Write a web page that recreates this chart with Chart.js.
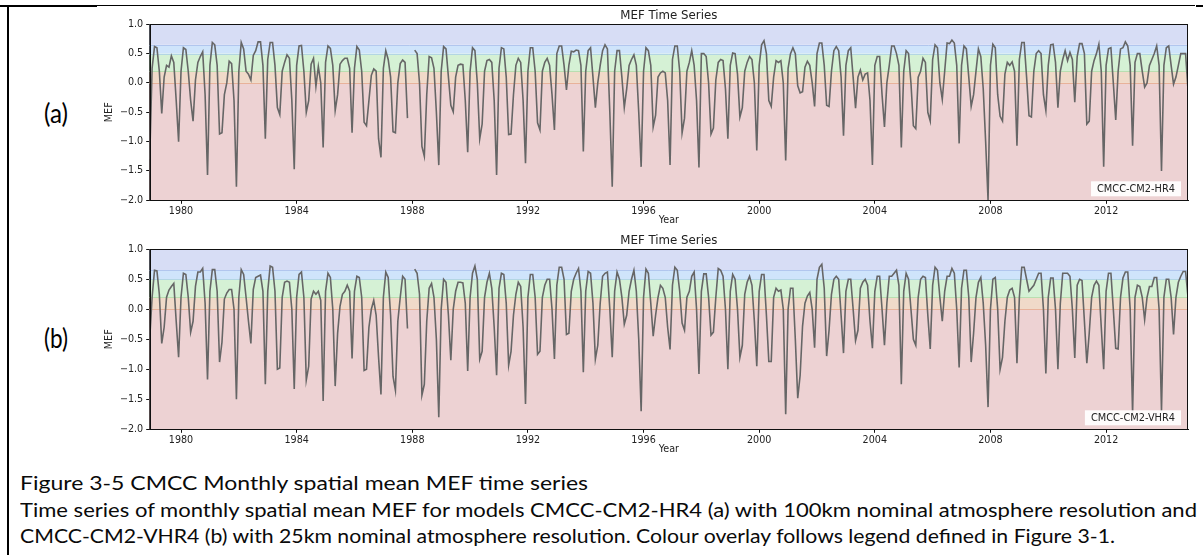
<!DOCTYPE html>
<html>
<head>
<meta charset="utf-8">
<script src="https://cdn.jsdelivr.net/npm/chart.js@4.4.1/dist/chart.umd.min.js"></script>
<style>
  html, body { margin: 0; padding: 0; background: #fff; }
  #page { position: relative; width: 1203px; height: 555px; overflow: hidden; background: #fff; }
  canvas { position: absolute; left: 0; }
  .rule { position: absolute; background: #000; }
  .cap { position: absolute; left: 20px; white-space: nowrap; font-family: Lato, sans-serif;
         font-size: 18.5px; line-height: 18.5px; color: #0a0a0a; transform-origin: 0 0; }
  .tag { position: absolute; white-space: nowrap; font-family: Lato, sans-serif;
         font-size: 27px; line-height: 27px; color: #000; transform-origin: 0 0; }
</style>
</head>
<body>
<div id="page">
  <div class="rule" style="left:0;top:5px;width:97px;height:2px"></div>
  <div class="rule" style="left:97px;top:5px;width:1098px;height:1px"></div>
  <div class="rule" style="left:1196px;top:5px;width:7px;height:2px"></div>
  <div class="rule" style="left:7px;top:5px;width:1.5px;height:550px"></div>

  <div class="tag" style="left:44px;top:99px" data-w="24">(a)</div>
  <div class="tag" style="left:44px;top:324px" data-w="24">(b)</div>

  <canvas id="hr4Chart" width="1203" height="230" style="top:0"></canvas>
  <canvas id="vhr4Chart" width="1203" height="234" style="top:225px"></canvas>

  <div class="cap" style="top:473.6px" data-w="568">Figure 3-5 CMCC Monthly spatial mean MEF time series</div>
  <div class="cap" style="top:500.9px" data-w="1177">Time series of monthly spatial mean MEF for models CMCC-CM2-HR4 (a) with 100km nominal atmosphere resolution and</div>
  <div class="cap" style="top:526.9px" data-w="1095">CMCC-CM2-VHR4 (b) with 25km nominal atmosphere resolution. Colour overlay follows legend defined in Figure 3-1.</div>
</div>

<script>
// monthly series, Dec 1978 .. Nov 2014 (one row = Dec..Nov)
const startYear = 1978 + 11 / 12;
const tickYears = [1980, 1984, 1988, 1992, 1996, 2000, 2004, 2008, 2012];
const yTicks = [-2, -1.5, -1, -0.5, 0, 0.5, 1];

const hr4 = [
  -1.3, 0.25, 0.62, 0.6, 0.2, -0.52, 0.1, 0.3, 0.27, 0.46, 0.35, -0.3,
  -1.0, 0.2, 0.6, 0.57, 0.2, -0.3, -0.65, 0.05, 0.35, 0.45, 0.53, -0.2,
  -1.57, 0.3, 0.69, 0.65, 0.3, -0.87, -0.85, -0.2, 0.0, 0.37, 0.33, -0.3,
  -1.77, 0.2, 0.69, 0.58, 0.2, 0.15, 0.05, 0.47, 0.55, 0.7, 0.7, 0.3,
  -0.95, 0.4, 0.69, 0.69, 0.3, -0.42, -0.54, 0.2, 0.35, 0.48, 0.42, -0.3,
  -1.47, 0.3, 0.63, 0.64, 0.2, -0.5, -0.3, 0.32, 0.42, -0.06, 0.28, 0.0,
  -1.1, 0.35, 0.63, 0.59, 0.3, -0.47, -0.2, 0.32, 0.38, 0.42, 0.42, 0.25,
  -0.85, 0.25, 0.62, 0.56, 0.2, -0.67, -0.73, -0.3, 0.13, 0.24, 0.2, -0.95,
  -1.27, 0.25, 0.55, 0.4, 0.1, -0.83, -0.85, 0.0, 0.33, 0.39, 0.35, -0.6,
  null, null, 0.56, 0.5, 0.0, -1.08, -1.25, -0.2, 0.45, 0.43, 0.25, -0.5,
  -1.4, 0.2, 0.62, 0.58, 0.1, -0.38, -0.49, 0.1, 0.3, 0.32, 0.31, -0.3,
  -1.18, 0.2, 0.6, 0.55, 0.0, -0.95, -0.7, 0.2, 0.38, 0.4, 0.35, -0.3,
  -1.57, 0.25, 0.6, 0.58, 0.1, -0.88, -0.87, -0.2, 0.3, 0.42, 0.35, -0.3,
  -1.37, 0.2, 0.6, 0.6, 0.2, -0.68, -0.8, 0.2, 0.35, 0.42, 0.3, -0.2,
  -0.8, 0.5, 0.63, 0.63, 0.3, -0.12, 0.3, 0.54, 0.53, 0.56, 0.55, 0.3,
  -1.17, 0.2, 0.55, 0.6, 0.1, -0.42, 0.0, 0.3, 0.55, 0.65, 0.58, -0.5,
  -1.77, 0.2, 0.55, 0.55, 0.1, -0.42, -0.1, 0.3, 0.4, 0.48, 0.3, -0.5,
  -1.43, 0.2, 0.6, 0.55, 0.3, -0.75, -0.55, 0.1, 0.17, 0.2, 0.17, -0.3,
  -1.4, 0.4, 0.63, 0.63, 0.2, -0.85, -0.6, 0.2, 0.35, 0.55, 0.3, -0.3,
  -1.44, 0.5, 0.5, 0.45, 0.0, -0.87, -0.77, 0.05, 0.35, 0.4, 0.38, -0.1,
  -0.95, 0.3, 0.51, 0.5, 0.15, -0.58, -0.42, 0.2, 0.35, 0.45, 0.4, 0.0,
  -1.15, 0.3, 0.65, 0.72, 0.5, -0.3, -0.4, 0.1, 0.38, 0.35, 0.38, 0.0,
  -1.32, 0.25, 0.5, 0.6, 0.5, -0.05, -0.17, -0.15, 0.27, 0.37, 0.3, 0.0,
  -0.4, 0.5, 0.68, 0.68, 0.3, -0.38, -0.4, 0.2, 0.55, 0.62, 0.55, 0.1,
  -0.9, 0.3, 0.55, 0.6, 0.1, -0.43, 0.1, 0.22, 0.05, 0.15, 0.17, -0.3,
  -1.4, 0.3, 0.45, 0.45, -0.2, -0.75, 0.0, 0.3, 0.63, 0.63, 0.5, 0.3,
  -1.1, 0.2, 0.55, 0.5, 0.0, -0.73, -0.78, 0.1, 0.2, 0.42, 0.35, -0.5,
  -0.65, 0.4, 0.65, 0.6, 0.0, -0.28, 0.2, 0.68, 0.67, 0.73, 0.68, 0.3,
  -1.03, 0.3, 0.63, 0.58, 0.1, -0.4, -0.2, 0.2, 0.58, 0.45, -0.1, -1.0,
  -2.0, 0.3, 0.66, 0.6, -0.2, -0.57, -0.65, 0.15, 0.35, 0.3, 0.36, 0.2,
  -1.07, 0.4, 0.69, 0.69, 0.1, -0.56, -0.58, 0.2, 0.5, 0.55, 0.5, -0.2,
  -0.47, 0.3, 0.65, 0.66, 0.35, -0.42, 0.2, 0.4, 0.55, 0.38, 0.52, 0.4,
  -0.33, 0.45, 0.67, 0.67, 0.5, -0.7, -0.65, 0.2, 0.38, 0.5, 0.66, 0.2,
  -1.43, 0.3, 0.58, 0.6, 0.0, -0.63, 0.2, 0.58, 0.6, 0.7, 0.63, 0.3,
  -1.07, 0.35, 0.5, 0.5, 0.2, -0.07, 0.0, 0.3, 0.4, 0.5, 0.63, 0.3,
  -1.5, 0.3, 0.6, 0.63, 0.3, -0.02, 0.1, 0.3, 0.5, 0.5, 0.5, -0.12
];

const vhr4 = [
  -0.5, 0.2, 0.65, 0.64, 0.25, -0.57, -0.3, 0.2, 0.32, 0.38, 0.43, -0.2,
  -0.8, 0.2, 0.6, 0.58, 0.2, -0.38, -0.2, 0.38, 0.62, 0.62, 0.68, 0.1,
  -1.17, 0.3, 0.66, 0.66, 0.3, -0.88, -0.55, 0.17, 0.27, 0.33, 0.33, 0.0,
  -1.5, 0.2, 0.66, 0.58, 0.2, -0.2, -0.57, 0.33, 0.53, 0.55, 0.57, 0.3,
  -1.25, 0.3, 0.72, 0.7, 0.3, -1.0, -0.98, 0.2, 0.45, 0.47, 0.45, 0.0,
  -1.33, 0.2, 0.58, 0.62, 0.2, -1.18, -0.95, 0.17, 0.3, 0.25, 0.3, 0.15,
  -1.53, 0.3, 0.6, 0.53, 0.0, -1.28, -0.4, 0.05, 0.25, 0.3, 0.4, 0.3,
  -0.82, 0.3, 0.55, 0.53, 0.2, -1.02, -1.0, -0.3, 0.0, 0.15, -0.1, -0.8,
  -1.42, 0.2, 0.62, 0.53, -0.1, -1.12, -1.35, -0.2, 0.2, 0.55, 0.5, -0.32,
  null, null, 0.67, 0.6, 0.25, -1.43, -1.25, -0.2, 0.35, 0.43, 0.2, -0.5,
  -1.8, 0.0, 0.5, 0.45, -0.1, -0.85, 0.0, 0.3, 0.45, 0.45, 0.44, 0.1,
  -1.03, 0.2, 0.6, 0.72, 0.5, -0.83, -0.7, 0.2, 0.45, 0.6, 0.35, -0.3,
  -1.1, 0.35, 0.6, 0.58, 0.1, -0.93, -0.7, -0.1, 0.25, 0.45, 0.38, -0.3,
  -1.58, 0.2, 0.58, 0.58, 0.2, -0.75, -0.7, 0.2, 0.4, 0.5, 0.5, 0.0,
  -0.83, 0.4, 0.7, 0.7, 0.5, -0.42, -0.4, 0.3, 0.5, 0.6, 0.68, 0.3,
  -1.05, 0.3, 0.63, 0.6, 0.1, -0.83, -0.6, 0.1, 0.55, 0.6, 0.62, 0.0,
  -0.8, 0.3, 0.62, 0.5, 0.2, -0.25, -0.1, 0.3, 0.5, 0.65, 0.3, -0.5,
  -1.7, 0.2, 0.67, 0.6, 0.1, -0.45, -0.1, 0.2, 0.4, 0.35, 0.2, -0.3,
  -0.67, 0.4, 0.7, 0.65, 0.3, -0.23, -0.35, 0.2, 0.3, 0.55, 0.62, 0.0,
  -1.08, 0.3, 0.59, 0.59, 0.2, -0.43, -0.38, 0.2, 0.68, 0.65, 0.55, 0.0,
  -1.0, 0.3, 0.58, 0.5, 0.0, -0.8, -0.6, 0.25, 0.45, 0.55, 0.4, -0.2,
  -0.95, 0.3, 0.58, 0.58, -0.1, -0.87, -0.87, 0.2, 0.35, 0.3, 0.32, 0.0,
  -1.75, 0.0, 0.35, 0.35, -0.5, -1.48, -1.1, -0.28, 0.1, 0.22, 0.28, 0.0,
  -0.64, 0.5, 0.7, 0.75, 0.35, -0.78, -0.35, 0.25, 0.5, 0.55, 0.5, -0.1,
  -0.73, 0.3, 0.5, 0.5, 0.0, -0.52, -0.35, 0.35, 0.45, 0.5, 0.4, -0.2,
  -0.65, 0.3, 0.55, 0.55, 0.0, -0.6, 0.1, 0.55, 0.55, 0.6, 0.65, 0.4,
  -1.25, 0.3, 0.6, 0.5, 0.0, -0.5, -0.6, 0.2, 0.5, 0.55, 0.53, -0.1,
  -0.66, 0.4, 0.7, 0.65, 0.2, -0.2, 0.3, 0.55, 0.55, 0.68, 0.6, 0.0,
  -0.97, 0.35, 0.65, 0.65, 0.2, -0.88, -0.4, 0.2, 0.45, 0.53, 0.1, -0.6,
  -1.63, 0.0, 0.5, 0.53, 0.0, -1.0, -0.8, -0.2, 0.2, 0.32, 0.35, 0.2,
  -0.9, 0.2, 0.7, 0.7, 0.5, 0.3, 0.35, 0.4, 0.5, 0.6, 0.6, 0.0,
  -1.07, 0.2, 0.52, 0.52, 0.0, -1.0, 0.1, 0.6, 0.6, 0.6, 0.55, 0.0,
  -0.81, 0.4, 0.5, 0.48, -0.2, -0.9, -0.4, 0.2, 0.4, 0.47, 0.4, -0.3,
  -1.0, 0.3, 0.6, 0.6, 0.0, -0.65, -0.66, 0.2, 0.52, 0.62, 0.62, 0.0,
  -1.75, 0.2, 0.4, 0.38, 0.2, -0.17, 0.2, 0.38, 0.38, 0.53, 0.53, 0.0,
  -1.7, 0.2, 0.5, 0.5, 0.2, -0.42, 0.2, 0.45, 0.55, 0.63, 0.63, 0.2
];

// colour overlay (MEF classes)
const bandEdges = [-2, 0, 0.2, 0.5, 0.65, 1];
const bandFills = ['#edd2d3', '#f0dac9', '#d5f1d5', '#cfe4fb', '#d7ddf5'];
const bandLines = ['#e8b29a', '#b9deb0', '#b3d6e3', '#b1c6ee'];

Chart.defaults.font.family = "'DejaVu Sans', sans-serif";
Chart.defaults.font.size = 9.6;
Chart.defaults.color = '#222';

const panelDecor = {
  id: 'panelDecor',
  beforeDatasetsDraw(chart) {
    const {ctx, chartArea: a, scales: {y}} = chart;
    ctx.save();
    for (let i = 0; i < bandFills.length; i++) {
      const top = y.getPixelForValue(bandEdges[i + 1]);
      const bot = y.getPixelForValue(bandEdges[i]);
      ctx.fillStyle = bandFills[i];
      ctx.fillRect(a.left, top, a.right - a.left, bot - top);
    }
    ctx.lineWidth = 1;
    for (let i = 0; i < bandLines.length; i++) {
      const py = Math.round(y.getPixelForValue(bandEdges[i + 1])) + 0.5;
      ctx.strokeStyle = bandLines[i];
      ctx.beginPath();
      ctx.moveTo(a.left, py);
      ctx.lineTo(a.right, py);
      ctx.stroke();
    }
    ctx.restore();
  },
  afterDatasetsDraw(chart) {
    const {ctx, chartArea: a} = chart;
    const label = chart.data.datasets[0].label;
    ctx.save();
    ctx.font = "9.8px 'DejaVu Sans'";
    const tw = ctx.measureText(label).width;
    const bw = tw + 12, bh = 15;
    const bx = a.right - 7 - bw, by = a.bottom - 4 - bh;
    ctx.fillStyle = 'rgba(255,255,255,0.92)';
    ctx.fillRect(bx, by, bw, bh);
    ctx.fillStyle = '#222';
    ctx.textBaseline = 'middle';
    ctx.fillText(label, bx + 6, by + bh / 2 + 0.5);
    ctx.strokeStyle = '#111';
    ctx.lineWidth = 1;
    ctx.strokeRect(Math.round(a.left) + 0.5, Math.round(a.top) + 0.5,
                   Math.round(a.right - a.left) - 1, Math.round(a.bottom - a.top));
    ctx.restore();
  }
};

function MefPanel(canvasId, label, values, plotBottomPad) {
  const ctx = document.getElementById(canvasId);
  const points = values.map((v, i) => ({x: startYear + i / 12, y: v}));
  new Chart(ctx, {
    type: 'line',
    data: {
      datasets: [{
        label: label,
        data: points,
        borderColor: '#666666',
        borderWidth: 1.6,
        pointRadius: 0,
        tension: 0,
        spanGaps: false
      }]
    },
    options: {
      responsive: false,
      animation: false,
      devicePixelRatio: 1,
      layout: {padding: {left: 100, right: 15, top: 8.7, bottom: plotBottomPad}},
      plugins: {
        legend: {display: false},
        tooltip: {enabled: false},
        title: {
          display: true,
          text: 'MEF Time Series',
          fullSize: false,
          font: {size: 11.8, weight: 'normal'},
          color: '#222',
          padding: {top: 0, bottom: 1.4}
        }
      },
      scales: {
        x: {
          type: 'linear',
          min: startYear,
          max: startYear + (values.length - 1) / 12,
          afterBuildTicks: s => { s.ticks = tickYears.map(v => ({value: v})); },
          afterFit: s => { s.height = 29.7; },
          grid: {drawOnChartArea: false, drawTicks: true, tickLength: 3.5, color: '#111'},
          border: {display: true, color: '#111'},
          ticks: {padding: 2, callback: v => String(v), maxRotation: 0, autoSkip: false},
          title: {display: true, text: 'Year', font: {size: 9.6}, padding: {top: 0, bottom: 4}}
        },
        y: {
          min: -2,
          max: 1,
          afterBuildTicks: s => { s.ticks = yTicks.map(v => ({value: v})); },
          afterFit: s => { s.width = 49.7; },
          grid: {drawOnChartArea: false, drawTicks: true, tickLength: 3.5, color: '#111'},
          border: {display: true, color: '#111'},
          ticks: {padding: 3, callback: v => (v < 0 ? '\u2212' : '') + Math.abs(v).toFixed(1)},
          title: {display: true, text: 'MEF', font: {size: 9.6}, padding: {top: 4, bottom: 4}}
        }
      }
    },
    plugins: [panelDecor]
  });
}

MefPanel('hr4Chart', 'CMCC-CM2-HR4', hr4, 0);
MefPanel('vhr4Chart', 'CMCC-CM2-VHR4', vhr4, 0);

// fit Word-style caption lines to their measured widths
document.querySelectorAll('[data-w]').forEach(el => {
  const span = document.createElement('span');
  span.textContent = el.textContent;
  el.textContent = '';
  el.appendChild(span);
  const w = span.getBoundingClientRect().width;
  el.style.transform = 'scaleX(' + (parseFloat(el.dataset.w) / w) + ')';
});
</script>
</body>
</html>
